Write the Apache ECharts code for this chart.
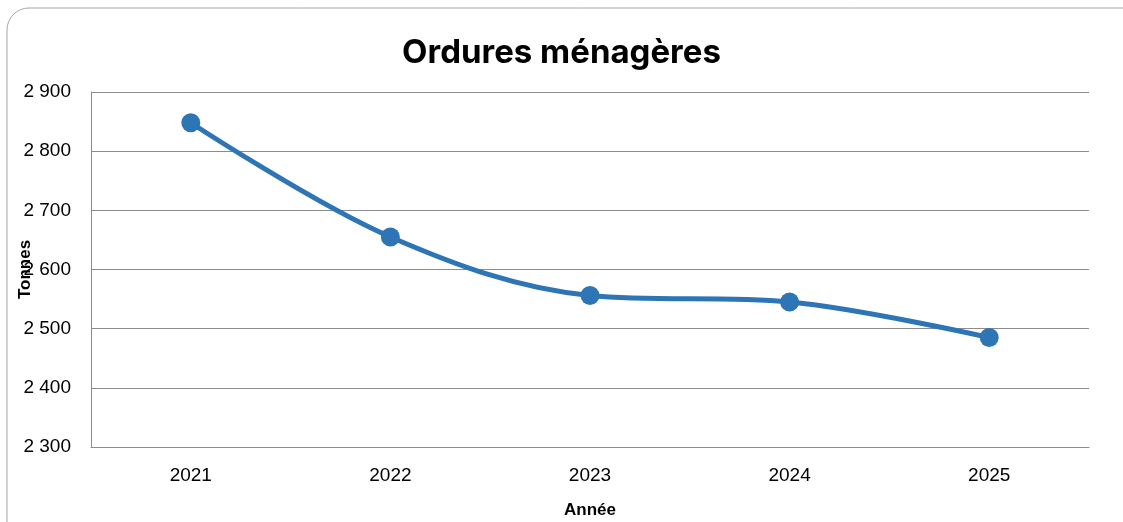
<!DOCTYPE html>
<html>
  <head>
    <meta charset="utf-8" />
    <title>Ordures ménagères</title>
    <script src="https://cdn.jsdelivr.net/npm/echarts@6/dist/echarts.min.js"></script>
    <style>
      html, body { margin: 0; padding: 0; background: #fff; }
    </style>
  </head>
  <body>
    <div id="main" style="width: 1123px; height: 522px"></div>

    <script type="text/javascript">
      var years = ["2021", "2022", "2023", "2024", "2025"];
      var tonnes = [2848, 2655, 2556, 2545, 2485];

      var myChart = echarts.init(document.getElementById("main"));

      var option = {
        backgroundColor: "#fff",
        graphic: [
          {
            type: "rect",
            shape: { x: 7, y: 8, width: 1140, height: 540, r: 22 },
            style: { fill: "none", stroke: "#a6a6a6", lineWidth: 1 },
            silent: true,
          },
        ],
        title: {
          text: "Ordures ménagères",
          left: "center",
          top: 32,
          textStyle: {
            fontFamily: "Inter",
            fontWeight: "bold",
            fontSize: 33,
            color: "#000",
          },
        },
        grid: {
          left: 91,
          right: 34,
          top: 92,
          bottom: 75,
          outerBoundsMode: "none",
        },
        xAxis: {
          type: "category",
          data: years,
          boundaryGap: true,
          name: "Année",
          nameLocation: "middle",
          nameGap: 55,
          nameTextStyle: {
            fontFamily: "Liberation Sans",
            fontWeight: "bold",
            fontSize: 17,
            color: "#000",
          },
          axisLine: { lineStyle: { color: "#8c8c8c", width: 1 } },
          axisTick: { show: false },
          axisLabel: {
            margin: 19,
            fontFamily: "Liberation Sans",
            fontSize: 19,
            color: "#000",
          },
        },
        yAxis: {
          type: "value",
          min: 2300,
          max: 2900,
          interval: 100,
          name: "Tonnes",
          nameLocation: "middle",
          nameGap: 57,
          nameMoveOverlap: false,
          nameTextStyle: {
            fontFamily: "Liberation Sans",
            fontWeight: "bold",
            fontSize: 17,
            color: "#000",
          },
          axisLine: { show: true, lineStyle: { color: "#8c8c8c", width: 1 } },
          axisTick: { show: false },
          splitLine: { lineStyle: { color: "#8c8c8c", width: 1 } },
          axisLabel: {
            margin: 20,
            fontFamily: "Liberation Sans",
            fontSize: 19,
            color: "#000",
            formatter: function (v) {
              var s = String(v);
              return s.slice(0, s.length - 3) + " " + s.slice(-3);
            },
          },
        },
        series: [
          {
            type: "line",
            data: tonnes,
            smooth: 0.35,
            symbol: "circle",
            symbolSize: 19,
            lineStyle: { color: "#2e75b6", width: 5 },
            itemStyle: { color: "#2e75b6" },
          },
        ],
      };
      myChart.setOption(option);
    </script>
  </body>
</html>
